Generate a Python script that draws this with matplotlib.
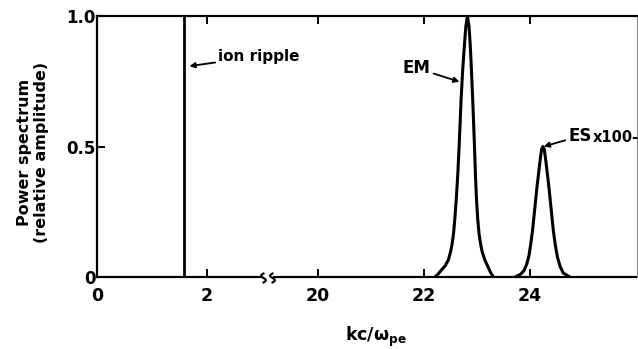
import numpy as np
import matplotlib
matplotlib.use("Agg")
import matplotlib.pyplot as plt

# ---------------- data ----------------
ion_k = [1.58, 1.58]
ion_p = [0.0, 1.0]

em_k = [22.21, 22.27, 22.33, 22.40, 22.46, 22.50, 22.53, 22.56, 22.585, 22.61,
        22.64, 22.67, 22.70, 22.73, 22.76, 22.79, 22.82, 22.85, 22.87, 22.89,
        22.92, 22.95, 22.97, 22.99, 23.015, 23.04, 23.07, 23.10, 23.15, 23.21,
        23.26, 23.31]
em_p = [0.00, 0.012, 0.027, 0.043, 0.065, 0.095, 0.125, 0.17, 0.23, 0.30,
        0.40, 0.53, 0.678, 0.79, 0.88, 0.96, 1.00, 0.96, 0.90, 0.82,
        0.678, 0.52, 0.40, 0.30, 0.22, 0.165, 0.125, 0.095, 0.065, 0.038,
        0.016, 0.00]

es_k = [23.72, 23.82, 23.89, 23.94, 23.98, 24.01, 24.05, 24.09, 24.13, 24.17,
        24.20, 24.22, 24.245, 24.27, 24.29, 24.32, 24.36, 24.40, 24.44, 24.48,
        24.52, 24.57, 24.63, 24.75]
es_p = [0.00, 0.01, 0.025, 0.05, 0.08, 0.12, 0.18, 0.26, 0.34, 0.41,
        0.46, 0.49, 0.50, 0.49, 0.46, 0.41, 0.34, 0.26, 0.18, 0.12,
        0.075, 0.04, 0.015, 0.00]

xtick_vals = [0, 2, 20, 22, 24]
xtick_labels = ["0", "2", "20", "22", "24"]
ytick_vals = [0, 0.5, 1.0]
ytick_labels = ["0", "0.5", "1.0"]

# ---------------- broken-axis scale ----------------
K = 55.0 / 53.0
A, B, C = 3.0, 19.2, 15.83
mA, mB = A * K, B - C


def fwd(x):
    x = np.asarray(x, dtype=float)
    mid = mA + (x - A) * (mB - mA) / (B - A)
    return np.where(x <= A, x * K, np.where(x >= B, x - C, mid))


def inv(y):
    y = np.asarray(y, dtype=float)
    mid = A + (y - mA) * (B - A) / (mB - mA)
    return np.where(y <= mA, y / K, np.where(y >= mB, y + C, mid))


plt.rcParams['font.family'] = ['DejaVu Sans']
plt.rcParams['mathtext.fontset'] = 'dejavusans'

fig = plt.figure(figsize=(6.38, 3.49), dpi=100)
L, R, Bt, T = 97 / 638, 637 / 638, (349 - 277) / 349, (349 - 16) / 349
ax = fig.add_axes([L, Bt, R - L, T - Bt])
ax.set_xscale('function', functions=(fwd, inv))
ax.set_xlim(0, 26.02)
ax.set_ylim(0, 1.0)

lw = 2.2
ax.plot(ion_k, ion_p, color='black', lw=2.0, solid_capstyle='butt')
ax.plot(em_k, em_p, color='black', lw=lw, solid_joinstyle='round')
ax.plot(es_k, es_p, color='black', lw=lw, solid_joinstyle='round')

for s in ax.spines.values():
    s.set_linewidth(1.6)
ax.spines['right'].set_linewidth(0.8)
ax.spines['right'].set_color('#888888')
ax.spines['bottom'].set_visible(False)

# bottom spine with break
W = 540.0
H = 261.0
g1 = (262 - 97) / W
g2 = (274 - 97) / W
ax.plot([0, g1], [0, 0], color='black', lw=1.6, transform=ax.transAxes, clip_on=False)
ax.plot([g2, 1], [0, 0], color='black', lw=1.6, transform=ax.transAxes, clip_on=False)
t = np.linspace(-1, 1, 30)
for cx in (g1 + 1.5 / W, g2 - 1.5 / W):
    ax.plot(cx + (2.4 / W) * np.sin(np.pi * t), (-4.5 / H) * t - 1.0 / H,
            color='black', lw=1.5, transform=ax.transAxes, clip_on=False)

ax.set_xticks(xtick_vals)
ax.set_xticklabels(xtick_labels)
ax.set_yticks(ytick_vals)
ax.set_yticklabels(ytick_labels)
ax.minorticks_off()
ax.tick_params(axis='x', direction='in', top=True, bottom=True, length=6, width=1.4,
               pad=7, labelsize=12.5)
ax.tick_params(axis='y', direction='in', left=True, right=False, length=6, width=1.4,
               pad=1, labelsize=12)
for lab in ax.get_xticklabels() + ax.get_yticklabels():
    lab.set_fontweight('bold')

# annotations
akw = dict(arrowstyle='-|>', color='black', lw=1.3, mutation_scale=8,
           shrinkA=0, shrinkB=0)
ax.annotate('ion ripple', xy=(1.68, 0.808), xytext=(2.20, 0.845),
            ha='left', va='center', fontsize=11, fontweight='bold',
            arrowprops=akw)
ax.annotate('EM', xy=(22.67, 0.748), xytext=(22.13, 0.80),
            ha='right', va='center', fontsize=12, fontweight='bold',
            arrowprops=akw)
ax.annotate('ES', xy=(24.26, 0.50), xytext=(24.72, 0.54),
            ha='left', va='center', fontsize=12, fontweight='bold',
            arrowprops=akw)
ax.text(25.19, 0.535, 'x100-', ha='left', va='center', fontsize=10.5, fontweight='bold')

fig.text(33 / 638, 1 - 152 / 349, 'Power spectrum\n(relative amplitude)', rotation=90,
         ha='center', va='center', multialignment='center', fontsize=11.5,
         fontweight='bold', linespacing=1.1)
fig.text(376 / 638, 1 - 337 / 349, r'kc/$\mathbf{\omega}_{\mathbf{pe}}$', ha='center',
         va='center', fontsize=12.5, fontweight='bold')

fig.savefig('out.png', dpi=100)
